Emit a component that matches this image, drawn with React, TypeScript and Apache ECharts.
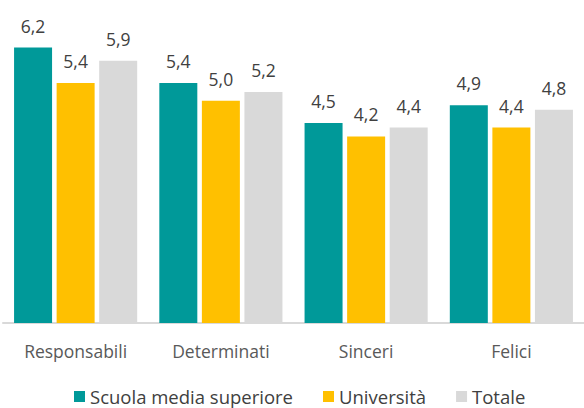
import React, { useEffect, useRef } from "react";
import * as echarts from "echarts";

const categories = ["Responsabili", "Determinati", "Sinceri", "Felici"];
const seriesNames = ["Scuola media superiore", "Università", "Totale"];
const scuola = [6.2, 5.4, 4.5, 4.9];
const universita = [5.4, 5.0, 4.2, 4.4];
const totale = [5.9, 5.2, 4.4, 4.8];
const colors = ["#009999", "#FFC000", "#D9D9D9"];

export default function App() {
  const ref = useRef<HTMLDivElement>(null);
  useEffect(() => {
    if (!ref.current) return;
    const chart = echarts.init(ref.current, undefined, { renderer: "svg" });
    const font = "'Open Sans', 'Noto Sans', sans-serif";
    const mk = (name: string, data: number[], color: string) => ({
      name,
      type: "bar",
      data,
      barWidth: 38,
      barGap: "12%",
      itemStyle: { color },
      label: {
        show: true,
        position: "top",
        distance: 13,
        color: "#404040",
        fontSize: 17.5,
        fontFamily: font,
        formatter: (p: any) => p.value.toFixed(1).replace(".", ","),
      },
    });
    chart.setOption({
      animation: false,
      grid: { left: 3, right: -5, top: 12, bottom: 85 },
      legend: {
        top: 387,
        left: 74,
        padding: 0,
        itemWidth: 11,
        itemHeight: 11,
        itemGap: 30,
        icon: "rect",
        textStyle: { color: "#404040", fontSize: 18.5, fontFamily: font },
        data: seriesNames,
      },
      xAxis: {
        type: "category",
        data: categories,
        axisLine: { lineStyle: { color: "#D9D9D9", width: 2 } },
        axisTick: { show: false },
        axisLabel: { color: "#595959", fontSize: 17.5, fontFamily: font, margin: 19 },
      },
      yAxis: {
        type: "value",
        min: 0,
        max: 7,
        show: false,
        splitLine: { show: false },
      },
      series: [
        mk(seriesNames[0], scuola, colors[0]),
        mk(seriesNames[1], universita, colors[1]),
        mk(seriesNames[2], totale, colors[2]),
      ],
    });
    return () => chart.dispose();
  }, []);
  return <div ref={ref} style={{ width: 584, height: 408, position: "absolute", left: 0, top: 0 }} />;
}
